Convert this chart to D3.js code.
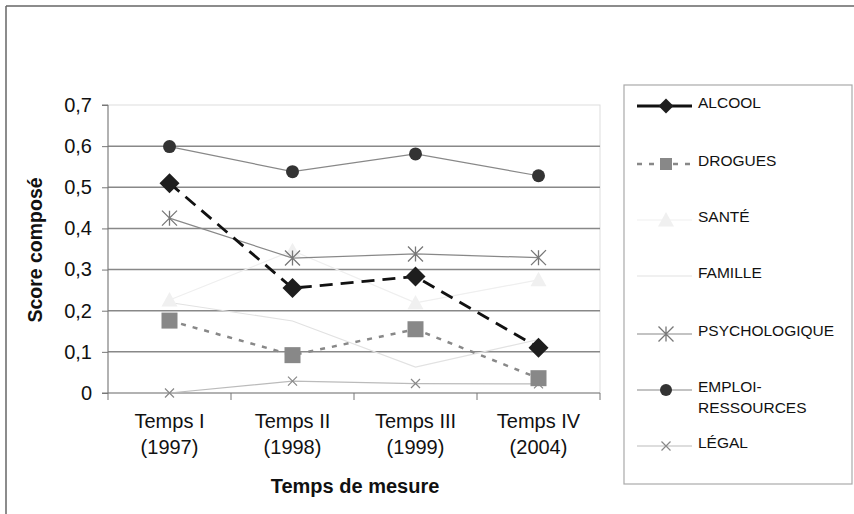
<!DOCTYPE html>
<html><head><meta charset="utf-8">
<script src="https://cdn.jsdelivr.net/npm/d3@7"></script>
<style>body{margin:0;background:#fff}svg{display:block;font-family:"Liberation Sans",Arial,sans-serif}</style>
</head><body>
<svg id="c" width="854" height="514"></svg>
<script>
const categories = [["Temps I","(1997)"],["Temps II","(1998)"],["Temps III","(1999)"],["Temps IV","(2004)"]];
const yTicks = [0,0.1,0.2,0.3,0.4,0.5,0.6,0.7];
const seriesNames = ["ALCOOL","DROGUES","SANTÉ","FAMILLE","PSYCHOLOGIQUE","EMPLOI-RESSOURCES","LÉGAL"];
const alcool = [0.51,0.255,0.283,0.110];
const drogues = [0.176,0.092,0.155,0.036];
const sante = [0.226,0.346,0.219,0.275];
const famille = [0.220,0.175,0.063,0.130];
const psycho = [0.425,0.328,0.338,0.329];
const emploi = [0.599,0.538,0.581,0.528];
const legal = [0.0,0.029,0.023,0.022];

const styles = {
  "ALCOOL":{data:alcool,stroke:"#111",w:2.8,dash:"13,8",marker:"diamond",fill:"#1e1e1e",size:10},
  "DROGUES":{data:drogues,stroke:"#888",w:2.5,dash:"5,7",marker:"square",fill:"#888",size:8},
  "SANTÉ":{data:sante,stroke:"#efefef",w:1.2,dash:null,marker:"triangle",fill:"#f0f0f0",size:8},
  "FAMILLE":{data:famille,stroke:"#e2e2e2",w:1.2,dash:null,marker:null},
  "PSYCHOLOGIQUE":{data:psycho,stroke:"#888",w:1.2,dash:null,marker:"star",fill:"none",mstroke:"#777",size:7.5},
  "EMPLOI-RESSOURCES":{data:emploi,stroke:"#888",w:1.2,dash:null,marker:"circle",fill:"#333",size:6.5},
  "LÉGAL":{data:legal,stroke:"#bbb",w:1.2,dash:null,marker:"x",fill:"none",mstroke:"#888",size:4.5}
};

const svg = d3.select("#c");
svg.append("line").attr("x1",6).attr("y1",6).attr("x2",854).attr("y2",6).attr("stroke","#666").attr("stroke-width",1.5);
svg.append("line").attr("x1",6).attr("y1",6).attr("x2",6).attr("y2",514).attr("stroke","#666").attr("stroke-width",1.5);

const L=108,R=600,T=105,B=393;
const x = d3.scaleBand().domain(d3.range(categories.length)).range([L,R]);
const y = d3.scaleLinear().domain([0,0.7]).range([B,T]);

svg.append("rect").attr("x",L).attr("y",T).attr("width",R-L).attr("height",B-T).attr("fill","none").attr("stroke","#ddd");
svg.append("g").selectAll("line").data(yTicks.filter(d=>d>0 && d<0.7)).join("line")
  .attr("x1",L).attr("x2",R).attr("y1",d=>y(d)).attr("y2",d=>y(d)).attr("stroke","#888").attr("stroke-width",1.5);

const ya = svg.append("g").attr("transform",`translate(${L},0)`).call(d3.axisLeft(y).tickValues(yTicks).tickSize(6).tickPadding(10)
   .tickFormat(d=>d===0?"0":d3.format(".1f")(d).replace(".",",")));
ya.select(".domain").attr("stroke","#777").attr("d",`M-6,${T}H0V${B}H-6`);
ya.selectAll(".tick line").attr("stroke","#777");
ya.selectAll("text").attr("font-size",20).attr("fill","#111").attr("font-family","Liberation Sans, Arial, sans-serif");

svg.append("line").attr("x1",L).attr("x2",R).attr("y1",B).attr("y2",B).attr("stroke","#777").attr("stroke-width",1.2);
svg.append("g").selectAll("line").data(d3.range(categories.length+1)).join("line")
  .attr("x1",i=>L+i*x.bandwidth()).attr("x2",i=>L+i*x.bandwidth()).attr("y1",B).attr("y2",B+7).attr("stroke","#777");
const xl = svg.append("g").selectAll("text").data(categories).join("text")
  .attr("x",(d,i)=>x(i)+x.bandwidth()/2).attr("y",428).attr("text-anchor","middle").attr("font-size",20).attr("fill","#111");
xl.append("tspan").attr("x",(d,i)=>x(i)+x.bandwidth()/2).text(d=>d[0]);
xl.append("tspan").attr("x",(d,i)=>x(i)+x.bandwidth()/2).attr("dy",26).text(d=>d[1]);

svg.append("text").attr("x",355).attr("y",493).attr("text-anchor","middle").attr("font-size",20).attr("font-weight","bold").attr("fill","#111").text("Temps de mesure");
svg.append("text").attr("transform","translate(42,250) rotate(-90)").attr("text-anchor","middle").attr("font-size",19.5).attr("font-weight","bold").attr("fill","#111").text("Score composé");

function drawMarker(g,type,cx,cy,s){
  const st = s.size;
  if(type==="diamond") g.append("path").attr("d",`M${cx},${cy-st}L${cx+st},${cy}L${cx},${cy+st}L${cx-st},${cy}Z`).attr("fill",s.fill);
  else if(type==="square") g.append("rect").attr("x",cx-st).attr("y",cy-st).attr("width",2*st).attr("height",2*st).attr("fill",s.fill);
  else if(type==="triangle") g.append("path").attr("d",`M${cx},${cy-st}L${cx+st},${cy+st*0.8}L${cx-st},${cy+st*0.8}Z`).attr("fill",s.fill);
  else if(type==="circle") g.append("circle").attr("cx",cx).attr("cy",cy).attr("r",st).attr("fill",s.fill);
  else if(type==="star"){
    g.append("path").attr("d",`M${cx-st},${cy-st}L${cx+st},${cy+st}M${cx-st},${cy+st}L${cx+st},${cy-st}M${cx},${cy-st}V${cy+st}`).attr("stroke",s.mstroke).attr("stroke-width",1.3).attr("fill","none");
  } else if(type==="x"){
    g.append("path").attr("d",`M${cx-st},${cy-st}L${cx+st},${cy+st}M${cx-st},${cy+st}L${cx+st},${cy-st}`).attr("stroke",s.mstroke).attr("stroke-width",1.2);
  }
}

const line = d3.line().x((d,i)=>x(i)+x.bandwidth()/2).y(d=>y(d));
const order = ["FAMILLE","SANTÉ","LÉGAL","PSYCHOLOGIQUE","EMPLOI-RESSOURCES","DROGUES","ALCOOL"];
order.forEach(name=>{
  const s = styles[name];
  const g = svg.append("g");
  g.append("path").attr("d",line(s.data)).attr("fill","none").attr("stroke",s.stroke).attr("stroke-width",s.w).attr("stroke-dasharray",s.dash);
  if(s.marker) s.data.forEach((v,i)=>drawMarker(g,s.marker,x(i)+x.bandwidth()/2,y(v),s));
});

svg.append("rect").attr("x",624).attr("y",85).attr("width",228).attr("height",399).attr("fill","none").attr("stroke","#aaa").attr("stroke-width",1.2);
const ly = {"ALCOOL":103,"DROGUES":161,"SANTÉ":217,"FAMILLE":273,"PSYCHOLOGIQUE":331,"EMPLOI-RESSOURCES":387,"LÉGAL":443};
seriesNames.forEach(name=>{
  const s = styles[name]; const yy = ly[name]+3;
  const g = svg.append("g");
  g.append("line").attr("x1",637).attr("x2",692).attr("y1",yy).attr("y2",yy).attr("stroke",s.stroke).attr("stroke-width",s.w).attr("stroke-dasharray",s.dash? (name==="ALCOOL"?null:"5,7"):null);
  const ms = Object.assign({},s,{size: name==="ALCOOL"?7.5:name==="DROGUES"?6:name==="EMPLOI-RESSOURCES"?6:name==="PSYCHOLOGIQUE"?7.5:s.size});
  if(s.marker) drawMarker(g,s.marker,666,yy,ms);
  const t = g.append("text").attr("x",698).attr("y",ly[name]+5).attr("font-size",15.5).attr("fill","#111");
  if(name==="EMPLOI-RESSOURCES"){
    t.append("tspan").attr("x",698).text("EMPLOI-");
    t.append("tspan").attr("x",698).attr("dy",21).text("RESSOURCES");
  } else t.text(name);
});
</script>
</body></html>
